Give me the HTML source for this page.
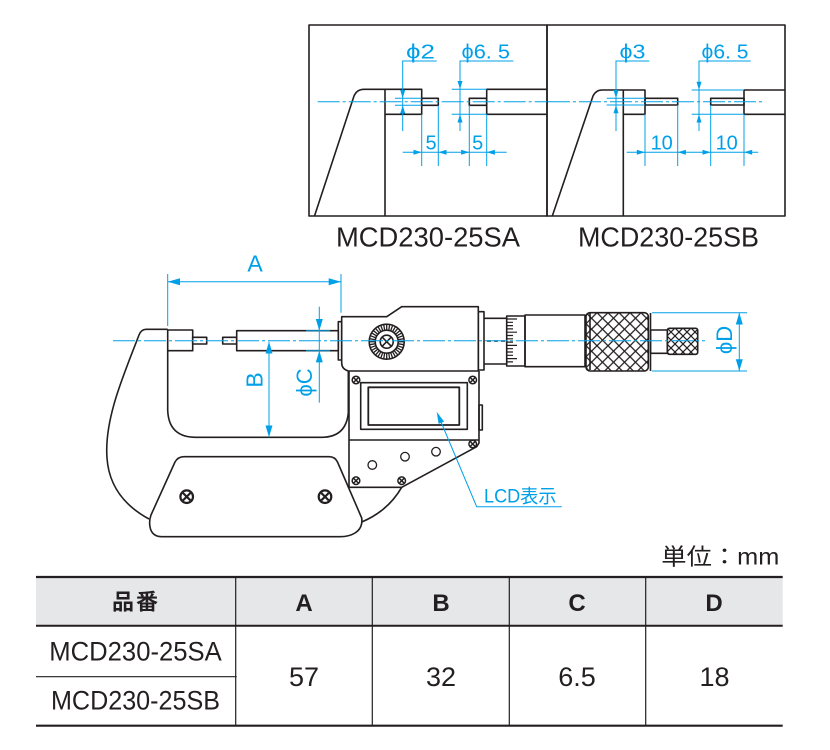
<!DOCTYPE html>
<html><head><meta charset="utf-8"><style>
html,body{margin:0;padding:0;background:#fff;}
svg{display:block;}
.k{fill:none;stroke:#231f20;stroke-width:1.6;stroke-linejoin:round;}
.b{fill:none;stroke:#00a0e9;stroke-width:1;}
.ba{fill:#00a0e9;stroke:none;}
.cl{fill:none;stroke:#00a0e9;stroke-width:1;stroke-dasharray:22 3 3 3;}
.bt{fill:#00a0e9;font-family:"Liberation Sans Narrow","Liberation Sans","DejaVu Sans",sans-serif;}
.tt{fill:#231f20;font-family:"Liberation Sans","Noto Sans CJK JP",sans-serif;}
</style></head><body>
<svg width="830" height="750" viewBox="0 0 830 750" xmlns="http://www.w3.org/2000/svg">
<defs>
<pattern id="kn" x="586" y="312.7" width="11" height="11" patternUnits="userSpaceOnUse">
<path d="M0,0 L11,11 M11,0 L0,11" stroke="#231f20" stroke-width="1.3" fill="none"/>
</pattern>
<pattern id="kn2" x="667" y="328" width="8" height="8" patternUnits="userSpaceOnUse">
<path d="M0,0 L8,8 M8,0 L0,8" stroke="#231f20" stroke-width="1.2" fill="none"/>
</pattern>
</defs>
<rect width="830" height="750" fill="#fff"/>

<!-- ===== Top detail boxes ===== -->
<rect x="309" y="25" width="238" height="191" class="k"/>
<rect x="547" y="25" width="238" height="191" class="k"/>

<!-- box 1 -->
<path class="k" d="M314.5,216 L354,96 Q357,89.3 364,89.3 L421.7,89.3 L421.7,114.3 L385,114.3"/>
<line class="k" x1="385" y1="89.3" x2="385" y2="216"/>
<rect class="k" x="421.7" y="98.3" width="16.6" height="7"/>
<rect class="k" x="469.3" y="98.3" width="17.4" height="7"/>
<path class="k" d="M547,89.3 L486.7,89.3 L486.7,114.3 L547,114.3"/>
<line class="cl" x1="317.7" y1="101.7" x2="547" y2="101.7"/>

<!-- phi2 -->
<polyline class="b" points="436.7,61 402.7,61 402.7,131"/>
<polygon class="ba" points="402.7,98.3 400.2,90 405.2,90"/>
<polygon class="ba" points="402.7,105.3 400.2,113.5 405.2,113.5"/>
<line class="b" x1="395" y1="98.3" x2="421.7" y2="98.3"/>
<line class="b" x1="395" y1="105.3" x2="421.7" y2="105.3"/>
<text class="bt" x="406" y="58.5" font-size="20" textLength="29" lengthAdjust="spacingAndGlyphs">ϕ2</text>
<!-- phi6.5 -->
<polyline class="b" points="513.3,61 460,61 460,131"/>
<polygon class="ba" points="460,89.3 457.5,81 462.5,81"/>
<polygon class="ba" points="460,114.3 457.5,122.5 462.5,122.5"/>
<line class="b" x1="451.7" y1="89.3" x2="486.7" y2="89.3"/>
<line class="b" x1="451.7" y1="114.3" x2="486.7" y2="114.3"/>
<text class="bt" x="461.5" y="58.5" font-size="20" textLength="48.5" lengthAdjust="spacingAndGlyphs">ϕ6. 5</text>
<!-- 5 5 -->
<line class="b" x1="421.7" y1="114.3" x2="421.7" y2="166"/>
<line class="b" x1="438.3" y1="105.3" x2="438.3" y2="166"/>
<line class="b" x1="469.3" y1="105.3" x2="469.3" y2="166"/>
<line class="b" x1="486.7" y1="114.3" x2="486.7" y2="166"/>
<line class="b" x1="402.7" y1="152.3" x2="506.7" y2="152.3"/>
<polygon class="ba" points="421.7,152.3 413.5,149.8 413.5,154.8"/>
<polygon class="ba" points="438.3,152.3 446.5,149.8 446.5,154.8"/>
<polygon class="ba" points="469.3,152.3 461.1,149.8 461.1,154.8"/>
<polygon class="ba" points="486.7,152.3 494.9,149.8 494.9,154.8"/>
<text class="bt" x="431" y="149.5" font-size="20" text-anchor="middle">5</text>
<text class="bt" x="477.7" y="149.5" font-size="20" text-anchor="middle">5</text>

<!-- box 2 -->
<path class="k" d="M552.3,216 L593,96 Q596,90 602,90 L645,90 L645,114.3 L623.3,114.3"/>
<line class="k" x1="623.3" y1="90" x2="623.3" y2="216"/>
<rect class="k" x="645" y="98.3" width="32.7" height="6.7"/>
<rect class="k" x="710.7" y="98.3" width="33.3" height="6.7"/>
<path class="k" d="M785,90 L744,90 L744,114.3 L785,114.3"/>
<line class="cl" x1="548" y1="101.7" x2="763" y2="101.7"/>

<polyline class="b" points="649.3,61 616,61 616,131"/>
<polygon class="ba" points="616,98.3 613.5,90 618.5,90"/>
<polygon class="ba" points="616,105 613.5,113.2 618.5,113.2"/>
<line class="b" x1="606.7" y1="98.3" x2="645" y2="98.3"/>
<line class="b" x1="606.7" y1="105" x2="645" y2="105"/>
<text class="bt" x="619.5" y="58.5" font-size="20" textLength="26" lengthAdjust="spacingAndGlyphs">ϕ3</text>

<polyline class="b" points="750.7,61 699,61 699,131"/>
<polygon class="ba" points="699,90 696.5,81.7 701.5,81.7"/>
<polygon class="ba" points="699,114.3 696.5,122.5 701.5,122.5"/>
<line class="b" x1="691.7" y1="90" x2="744" y2="90"/>
<line class="b" x1="691.7" y1="114.3" x2="744" y2="114.3"/>
<text class="bt" x="701.5" y="58.5" font-size="20" textLength="47" lengthAdjust="spacingAndGlyphs">ϕ6. 5</text>

<line class="b" x1="645" y1="114.3" x2="645" y2="166"/>
<line class="b" x1="677.7" y1="105" x2="677.7" y2="166"/>
<line class="b" x1="710.7" y1="105" x2="710.7" y2="166"/>
<line class="b" x1="744" y1="114.3" x2="744" y2="166"/>
<line class="b" x1="626.7" y1="152.3" x2="758.3" y2="152.3"/>
<polygon class="ba" points="645,152.3 636.8,149.8 636.8,154.8"/>
<polygon class="ba" points="677.7,152.3 685.9,149.8 685.9,154.8"/>
<polygon class="ba" points="710.7,152.3 702.5,149.8 702.5,154.8"/>
<polygon class="ba" points="744,152.3 752.2,149.8 752.2,154.8"/>
<text class="bt" x="661.7" y="149.5" font-size="20" text-anchor="middle">10</text>
<text class="bt" x="726.7" y="149.5" font-size="20" text-anchor="middle">10</text>

<text class="tt" x="336" y="246.5" font-size="28" textLength="184" lengthAdjust="spacingAndGlyphs">MCD230-25SA</text>
<text class="tt" x="578" y="246.5" font-size="28" textLength="181" lengthAdjust="spacingAndGlyphs">MCD230-25SB</text>

<!-- ===== Main micrometer ===== -->
<!-- A dim -->
<line class="b" x1="167.7" y1="274" x2="167.7" y2="326"/>
<line class="b" x1="341" y1="274" x2="341" y2="312.7"/>
<line class="b" x1="167.7" y1="281.7" x2="341" y2="281.7"/>
<polygon class="ba" points="167.7,281.7 180,278.2 180,285.2"/>
<polygon class="ba" points="341,281.7 328.7,278.2 328.7,285.2"/>
<text class="bt" x="255" y="271.7" font-size="23" text-anchor="middle">A</text>

<!-- frame outer -->
<path class="k" d="M167.7,329.3 L146,329.3 Q141,329.5 139,335 C125,372 104,418 107,458 C109,487 125,506 149,519"/>
<!-- grip plate -->
<path class="k" d="M184,456.7 L329,456.7 Q335,456.7 337.5,462 L361.7,518 Q363,528 355,533 Q349,536.7 340,536.7 L162,536.7 Q153,536.7 150.5,529 Q148.5,522 151,515 L175,462 Q178,456.7 184,456.7 Z"/>
<path class="k" d="M401.7,487.3 Q388,511 361.7,522"/>
<!-- inner frame -->
<path class="k" d="M167.7,350.7 L167.7,410 Q168.5,437.3 196,437.3 L322,437.3 Q346,437 348.3,413 L348.3,371"/>
<!-- plate screws -->
<g class="k" style="stroke-width:2.2">
<circle cx="186.7" cy="496.7" r="6.3"/>
<path d="M183,493 L190.4,500.4 M190.4,493 L183,500.4"/>
<circle cx="325" cy="496.7" r="6.3"/>
<path d="M321.3,493 L328.7,500.4 M328.7,493 L321.3,500.4"/>
</g>

<!-- anvil & spindle -->
<rect class="k" x="167.7" y="330" width="25" height="20.7"/>
<rect class="k" x="192.7" y="337.3" width="14" height="6.7"/>
<rect class="k" x="222.7" y="337.3" width="14" height="6.7"/>
<rect class="k" x="236.7" y="330.7" width="101.6" height="20"/>

<!-- head -->
<rect class="k" x="338.3" y="321.7" width="3.4" height="38.3"/>
<path class="k" d="M341.7,316.7 L386.7,316.7 L401.7,306.7 L478.3,306.7 L478.3,371 L348.3,371 Q341.7,369 341.7,363 Z" fill="#fff"/>
<rect class="k" x="478.3" y="311.7" width="5.7" height="58.3"/>
<!-- ratchet knob -->
<circle class="k" cx="386.7" cy="341.7" r="17.5"/>
<g stroke="#231f20" stroke-width="1.3">
<path d="M398.7,341.7 L404.2,341.7 M398.5,343.8 L403.9,344.7 M397.9,345.8 L403.1,347.7 M397.1,347.7 L401.8,350.5 M395.9,349.4 L400.1,352.9 M394.4,350.9 L397.9,355.1 M392.7,352.1 L395.5,356.8 M390.8,353 L392.7,358.2 M388.8,353.5 L389.7,358.9 M386.7,353.7 L386.7,359.2 M384.6,353.5 L383.7,358.9 M382.6,353 L380.7,358.2 M380.7,352.1 L377.9,356.8 M379,350.9 L375.5,355.1 M377.5,349.4 L373.3,352.9 M376.3,347.7 L371.6,350.5 M375.5,345.8 L370.3,347.7 M374.9,343.8 L369.5,344.7 M374.7,341.7 L369.2,341.7 M374.9,339.6 L369.5,338.7 M375.5,337.6 L370.3,335.7 M376.3,335.7 L371.6,332.9 M377.5,334 L373.3,330.5 M379,332.5 L375.5,328.3 M380.7,331.3 L377.9,326.6 M382.6,330.4 L380.7,325.2 M384.6,329.9 L383.7,324.5 M386.7,329.7 L386.7,324.2 M388.8,329.9 L389.7,324.5 M390.8,330.4 L392.7,325.2 M392.7,331.3 L395.5,326.6 M394.4,332.5 L397.9,328.3 M395.9,334 L400.1,330.5 M397.1,335.7 L401.8,332.9 M397.9,337.6 L403.1,335.7 M398.5,339.6 L403.9,338.7"/>
</g>
<circle class="k" cx="386.7" cy="341.7" r="11.5"/>
<circle class="k" cx="386.7" cy="341.7" r="6.5"/>
<path class="k" d="M382.2,337.2 L391.2,346.2 M391.2,337.2 L382.2,346.2"/>

<!-- display panel -->
<path class="k" d="M349,371 L349,487.3 L401.7,487.3 L476.7,446.7 L479,443 L479,371"/>
<line class="k" x1="349" y1="440" x2="479" y2="440"/>
<rect class="k" x="360.7" y="382.7" width="106.6" height="46.6"/>
<rect class="k" x="368.3" y="387.3" width="91" height="37.7" style="stroke-width:1.8"/>
<rect class="k" x="479" y="405" width="3.3" height="25"/>
<g class="k" style="stroke-width:1.5">
<circle cx="356" cy="380" r="3.8"/><path d="M353.6,377.6 L358.4,382.4 M358.4,377.6 L353.6,382.4"/>
<circle cx="472.7" cy="380" r="3.8"/><path d="M470.3,377.6 L475.1,382.4 M475.1,377.6 L470.3,382.4"/>
<circle cx="472.7" cy="444" r="3.8"/><path d="M470.3,441.6 L475.1,446.4 M475.1,441.6 L470.3,446.4"/>
<circle cx="356" cy="480.7" r="3.8"/><path d="M353.6,478.3 L358.4,483.1 M358.4,478.3 L353.6,483.1"/>
<circle cx="401.7" cy="480.7" r="3.8"/><path d="M399.3,478.3 L404.1,483.1 M404.1,478.3 L399.3,483.1"/>
</g>
<circle class="k" cx="372.3" cy="465" r="4.3" style="stroke-width:1.3"/>
<circle class="k" cx="405" cy="456.7" r="4.3" style="stroke-width:1.3"/>
<circle class="k" cx="436" cy="451.7" r="4.3" style="stroke-width:1.3"/>

<!-- sleeve / thimble -->
<line class="k" x1="484" y1="318.3" x2="506.7" y2="318.3"/>
<line class="k" x1="484" y1="364" x2="506.7" y2="364"/>
<line x1="487" y1="341" x2="505" y2="341" stroke="#231f20" stroke-width="1.6" stroke-dasharray="4 3"/>
<rect class="k" x="506.7" y="316" width="18.3" height="50"/>
<g stroke="#231f20" stroke-width="1.2">
<path d="M507,319 h10 M507,322.3 h6 M507,325.6 h6 M507,328.9 h6 M507,332.2 h10 M507,335.5 h6 M507,338.8 h6 M507,342.1 h6 M507,345.4 h10 M507,348.7 h6 M507,352 h6 M507,355.3 h6 M507,358.6 h10 M507,361.9 h6"/>
</g>
<rect class="k" x="525" y="315" width="60" height="51.7"/>
<rect x="586" y="312.7" width="62.3" height="58.3" rx="4" fill="url(#kn)" stroke="#231f20" stroke-width="1.6"/>
<line class="k" x1="590" y1="313.5" x2="590" y2="370"/>
<line class="k" x1="650.5" y1="313" x2="650.5" y2="371"/>
<rect class="k" x="650.5" y="330" width="16.8" height="23.3"/>
<rect x="667.3" y="328.3" width="30.4" height="26" rx="2" fill="url(#kn2)" stroke="#231f20" stroke-width="1.6"/>

<!-- centerline -->
<line class="cl" x1="113" y1="340.7" x2="705" y2="340.7"/>

<!-- B dim -->
<line class="b" x1="269" y1="341.7" x2="269" y2="437.3"/>
<polygon class="ba" points="269,341.7 265.5,353.5 272.5,353.5"/>
<polygon class="ba" points="269,437.3 265.5,425.5 272.5,425.5"/>
<text class="bt" font-size="23" text-anchor="middle" transform="translate(262.7,380) rotate(-90)">B</text>

<!-- phi C -->
<line class="b" x1="319.3" y1="306.7" x2="319.3" y2="402.7"/>
<polygon class="ba" points="319.3,330.7 315.8,319 322.8,319"/>
<polygon class="ba" points="319.3,350.7 315.8,362.4 322.8,362.4"/>
<line class="b" x1="306" y1="330.7" x2="330" y2="330.7"/>
<line class="b" x1="306" y1="350.7" x2="330" y2="350.7"/>
<text class="bt" font-size="22" text-anchor="middle" transform="translate(312,382.5) rotate(-90)">ϕC</text>

<!-- phi D -->
<line class="b" x1="652" y1="312.7" x2="747" y2="312.7"/>
<line class="b" x1="652" y1="371" x2="747" y2="371"/>
<line class="b" x1="739.3" y1="312.7" x2="739.3" y2="371"/>
<polygon class="ba" points="739.3,312.7 735.8,324.5 742.8,324.5"/>
<polygon class="ba" points="739.3,371 735.8,359.2 742.8,359.2"/>
<text class="bt" font-size="22" text-anchor="middle" transform="translate(732,340) rotate(-90)">ϕD</text>

<!-- LCD leader -->
<polyline class="b" points="438.5,416 476.7,506.7 561.7,506.7"/>
<polygon class="ba" points="436.7,411.7 444.1,421.6 438.6,423.9"/>
<text class="bt" x="484" y="502.5" font-size="19" textLength="72.5" lengthAdjust="spacingAndGlyphs" style="font-family:'Liberation Sans Narrow','Liberation Sans','Noto Sans CJK JP',sans-serif">LCD表示</text>

<!-- ===== Table ===== -->
<text class="tt" x="779.3" y="564.5" font-size="23" text-anchor="end" textLength="118" lengthAdjust="spacingAndGlyphs">単位：mm</text>
<rect x="36" y="577" width="746.7" height="48.7" fill="#e6e7e9"/>
<line x1="36" y1="577" x2="782.7" y2="577" stroke="#231f20" stroke-width="2.2"/>
<line x1="36" y1="625.7" x2="782.7" y2="625.7" stroke="#231f20" stroke-width="2"/>
<line x1="36" y1="725.7" x2="782.7" y2="725.7" stroke="#231f20" stroke-width="2.2"/>
<line x1="36" y1="676.7" x2="236.7" y2="676.7" stroke="#231f20" stroke-width="1.2"/>
<g stroke="#231f20" stroke-width="1.2">
<line x1="235.7" y1="577" x2="235.7" y2="725.7"/>
<line x1="372.3" y1="577" x2="372.3" y2="725.7"/>
<line x1="509.3" y1="577" x2="509.3" y2="725.7"/>
<line x1="645.7" y1="577" x2="645.7" y2="725.7"/>
</g>
<g class="tt" font-weight="bold" text-anchor="middle">
<text x="136" y="609.5" font-size="22" letter-spacing="2">品番</text>
<text x="304" y="611" font-size="24">A</text>
<text x="441" y="611" font-size="24">B</text>
<text x="577" y="611" font-size="24">C</text>
<text x="714" y="611" font-size="24">D</text>
</g>
<text class="tt" x="49.3" y="660.7" font-size="27" textLength="172.4" lengthAdjust="spacingAndGlyphs">MCD230-25SA</text>
<text class="tt" x="51" y="709.3" font-size="27" textLength="169" lengthAdjust="spacingAndGlyphs">MCD230-25SB</text>
<g class="tt" font-size="27" text-anchor="middle">
<text x="304" y="686">57</text>
<text x="441" y="686">32</text>
<text x="577" y="686">6.5</text>
<text x="714.5" y="686">18</text>
</g>
</svg>
</body></html>
